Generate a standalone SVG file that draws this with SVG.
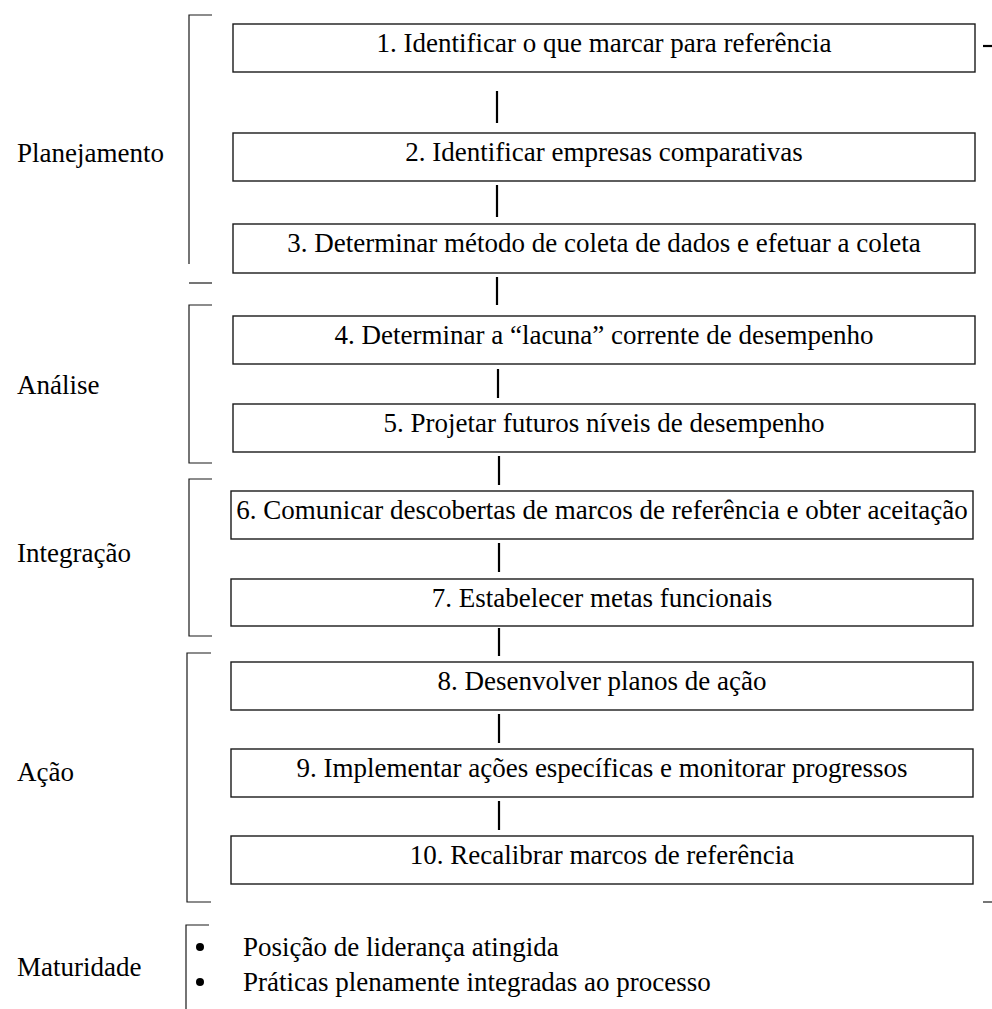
<svg xmlns="http://www.w3.org/2000/svg" width="992" height="1009" viewBox="0 0 992 1009">
  <style>
    .box { fill: #ffffff; stroke: #1a1a1a; stroke-width: 1.4; }
    .txt { font-family: "Liberation Serif", "Times New Roman", serif; font-size: 27px; fill: #000000; }
    .mid { text-anchor: middle; }
    .br { fill: none; stroke: #1a1a1a; stroke-width: 1.2; }
    .conn { stroke: #000000; stroke-width: 2.2; fill: none; }
  </style>
  <rect width="992" height="1009" fill="#ffffff"/>

  <!-- phase brackets with their labels -->
  <g id="phase-planejamento">
    <polyline class="br" points="212,15 189,15 189,264"/>
    <line class="br" x1="189" y1="283" x2="212" y2="283"/>
    <text class="txt" x="17" y="162">Planejamento</text>
  </g>
  <g id="phase-analise">
    <polyline class="br" points="212,305 189,305 189,463 212,463"/>
    <text class="txt" x="17" y="394">Análise</text>
  </g>
  <g id="phase-integracao">
    <polyline class="br" points="212,479 189,479 189,636 212,636"/>
    <text class="txt" x="17" y="562">Integração</text>
  </g>
  <g id="phase-acao">
    <polyline class="br" points="211,653 187,653 187,902 211,902"/>
    <text class="txt" x="17" y="781">Ação</text>
  </g>
  <g id="phase-maturidade">
    <polyline class="br" points="209,925 186,925 186,1009"/>
    <text class="txt" x="17" y="976">Maturidade</text>
    <circle cx="200" cy="947" r="4" fill="#000"/>
    <circle cx="200" cy="982" r="4" fill="#000"/>
    <text class="txt" x="243" y="956">Posição de liderança atingida</text>
    <text class="txt" x="243" y="991">Práticas plenamente integradas ao processo</text>
  </g>

  <!-- step boxes -->
  <g id="step1">
    <rect class="box" x="233" y="24" width="742" height="48"/>
    <text class="txt mid" x="604" y="52">1. Identificar o que marcar para referência</text>
  </g>
  <g id="step2">
    <rect class="box" x="233" y="133" width="742" height="48"/>
    <text class="txt mid" x="604" y="161">2. Identificar empresas comparativas</text>
  </g>
  <g id="step3">
    <rect class="box" x="233" y="224" width="742" height="49"/>
    <text class="txt mid" x="604" y="252">3. Determinar método de coleta de dados e efetuar a coleta</text>
  </g>
  <g id="step4">
    <rect class="box" x="233" y="316" width="742" height="48"/>
    <text class="txt mid" x="604" y="344">4. Determinar a “lacuna” corrente de desempenho</text>
  </g>
  <g id="step5">
    <rect class="box" x="233" y="404" width="742" height="48"/>
    <text class="txt mid" x="604" y="432">5. Projetar futuros níveis de desempenho</text>
  </g>
  <g id="step6">
    <rect class="box" x="231" y="491" width="742" height="48"/>
    <text class="txt mid" x="602" y="519">6. Comunicar descobertas de marcos de referência e obter aceitação</text>
  </g>
  <g id="step7">
    <rect class="box" x="231" y="579" width="742" height="47"/>
    <text class="txt mid" x="602" y="607">7. Estabelecer metas funcionais</text>
  </g>
  <g id="step8">
    <rect class="box" x="231" y="662" width="742" height="48"/>
    <text class="txt mid" x="602" y="690">8. Desenvolver planos de ação</text>
  </g>
  <g id="step9">
    <rect class="box" x="231" y="749" width="742" height="48"/>
    <text class="txt mid" x="602" y="777">9. Implementar ações específicas e monitorar progressos</text>
  </g>
  <g id="step10">
    <rect class="box" x="231" y="836" width="742" height="48"/>
    <text class="txt mid" x="602" y="864">10. Recalibrar marcos de referência</text>
  </g>

  <!-- connectors between consecutive steps -->
  <g id="connectors">
    <line class="conn" x1="497" y1="91" x2="497" y2="123"/>
    <line class="conn" x1="497" y1="185" x2="497" y2="217"/>
    <line class="conn" x1="497" y1="277" x2="497" y2="305"/>
    <line class="conn" x1="498" y1="369" x2="498" y2="398"/>
    <line class="conn" x1="499" y1="456" x2="499" y2="485"/>
    <line class="conn" x1="499" y1="543" x2="499" y2="572"/>
    <line class="conn" x1="499" y1="628" x2="499" y2="656"/>
    <line class="conn" x1="499" y1="714" x2="499" y2="743"/>
    <line class="conn" x1="499" y1="801" x2="499" y2="830"/>
    <line class="conn" x1="983" y1="46" x2="992" y2="46"/>
    <line class="br" x1="983" y1="902" x2="992" y2="902"/>
  </g>
</svg>
